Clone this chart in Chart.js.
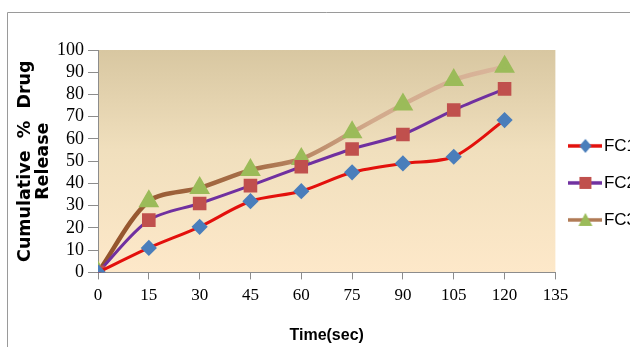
<!DOCTYPE html>
<html>
<head>
<meta charset="utf-8">
<script src="https://cdn.jsdelivr.net/npm/chart.js@4.4.1/dist/chart.umd.min.js"></script>
<style>
  html, body { margin: 0; padding: 0; background: #fff; overflow: hidden; }
  #wrap { width: 630px; height: 347px; position: relative; overflow: hidden; }
</style>
</head>
<body>
<div id="wrap"><canvas id="drugChart" width="646" height="347"></canvas></div>
<script>
const times = [0, 15, 30, 45, 60, 75, 90, 105, 120];
const fc1 = [0, 11, 20.5, 32, 36.5, 45, 49, 52, 68.5];
const fc2 = [0, 23.5, 31, 39, 47.5, 55.5, 62, 73, 82.5];
const fc3 = [0, 32, 38, 46, 51, 63, 75.5, 86.5, 92.5];
const seriesNames = ['FC1', 'FC2', 'FC3'];

function toPoints(values) {
    return times.map((t, i) => ({ x: t, y: values[i] }));
}

// little line + marker icon for the legend
function legendIcon(lineColor, markerColor, shape) {
    const c = document.createElement('canvas');
    c.width = 34;
    c.height = 16;
    const g = c.getContext('2d');
    g.strokeStyle = lineColor;
    g.lineWidth = 3.5;
    g.beginPath();
    g.moveTo(0, 8);
    g.lineTo(34, 8);
    g.stroke();
    g.fillStyle = markerColor;
    g.beginPath();
    if (shape === 'diamond') {
        g.moveTo(17, 1); g.lineTo(23, 8); g.lineTo(17, 15); g.lineTo(11, 8);
    } else if (shape === 'square') {
        g.rect(11, 2, 12, 12);
    } else {
        g.moveTo(17, 1); g.lineTo(24, 14); g.lineTo(10, 14);
    }
    g.closePath();
    g.fill();
    return c;
}

const icons = [
    legendIcon('#e3100c', '#4a7ebb', 'diamond'),
    legendIcon('#7030a0', '#c0504d', 'square'),
    legendIcon('#b07a55', '#9bbb59', 'triangle'),
];

const plotBackground = {
    id: 'plotBackground',
    beforeDraw(chart) {
        const { ctx, chartArea: a } = chart;
        ctx.save();
        // outer frame
        ctx.strokeStyle = '#9a9a9a';
        ctx.lineWidth = 1;
        ctx.beginPath();
        ctx.moveTo(7.5, 347);
        ctx.lineTo(7.5, 12.5);
        ctx.lineTo(646, 12.5);
        ctx.stroke();
        const grad = ctx.createLinearGradient(0, a.top, 0, a.bottom);
        grad.addColorStop(0, '#d8c7a1');
        grad.addColorStop(0.45, '#f0dfbd');
        grad.addColorStop(1, '#fde8c9');
        ctx.fillStyle = grad;
        ctx.fillRect(a.left, a.top, a.right - a.left, a.bottom - a.top);
        ctx.restore();
    }
};

function fc3Stroke(context) {
    const { ctx, chartArea } = context.chart;
    if (!chartArea) return '#b07a55';
    const grad = ctx.createLinearGradient(chartArea.left, 0, chartArea.right, 0);
    grad.addColorStop(0, '#93522a');
    grad.addColorStop(0.35, '#a8704a');
    grad.addColorStop(0.6, '#d2aa8c');
    grad.addColorStop(1, '#dcb9a0');
    return grad;
}

const ctx = document.getElementById('drugChart');
new Chart(ctx, {
    type: 'line',
    data: {
        datasets: [
            {
                label: seriesNames[0],
                data: toPoints(fc1),
                borderColor: '#e3100c',
                borderWidth: 3,
                pointStyle: 'rectRot',
                pointRadius: 6,
                pointBackgroundColor: '#4a7ebb',
                pointBorderColor: '#4a7ebb',
                tension: 0.3,
            },
            {
                label: seriesNames[1],
                data: toPoints(fc2),
                borderColor: '#7030a0',
                borderWidth: 3,
                pointStyle: 'rect',
                pointRadius: 7.5,
                pointBackgroundColor: '#c0504d',
                pointBorderColor: '#c0504d',
                tension: 0.3,
            },
            {
                label: seriesNames[2],
                data: toPoints(fc3),
                borderColor: fc3Stroke,
                borderWidth: 4.5,
                pointStyle: 'triangle',
                pointRadius: 7.5,
                pointBackgroundColor: '#9bbb59',
                pointBorderColor: '#9bbb59',
                tension: 0.3,
            },
        ],
    },
    options: {
        responsive: false,
        animation: false,
        events: [],
        layout: { padding: { top: 50, right: 0, left: 17, bottom: 2 } },
        plugins: {
            tooltip: { enabled: false },
            legend: {
                position: 'right',
                align: 'start',
                title: {
                    display: true,
                    text: ' ',
                    padding: { top: 47, bottom: 0 },
                    font: { size: 17 },
                },
                labels: {
                    usePointStyle: true,
                    pointStyleWidth: 20,
                    padding: 20,
                    color: '#000',
                    font: { family: "'Liberation Sans Narrow', 'Liberation Sans', sans-serif", size: 17 },
                    generateLabels(chart) {
                        return chart.data.datasets.map((ds, i) => ({
                            text: ds.label,
                            pointStyle: icons[i],
                            datasetIndex: i,
                            fillStyle: 'transparent',
                            strokeStyle: 'transparent',
                            lineWidth: 0,
                            fontColor: '#000',
                        }));
                    },
                },
            },
        },
        scales: {
            x: {
                type: 'linear',
                min: 0,
                max: 135,
                ticks: {
                    stepSize: 15,
                    autoSkip: false,
                    color: '#000',
                    padding: 6,
                    font: { family: "'Liberation Serif', serif", size: 17 },
                },
                grid: { drawOnChartArea: false, tickLength: 7, color: '#8c8c8c' },
                border: { color: '#8c8c8c' },
                title: {
                    display: true,
                    text: 'Time(sec)',
                    color: '#000',
                    padding: { top: 14, bottom: 0 },
                    font: { family: "'Liberation Sans Narrow', 'Liberation Sans', sans-serif", size: 16, weight: 'bold' },
                },
            },
            y: {
                min: 0,
                max: 100,
                ticks: {
                    stepSize: 10,
                    autoSkip: false,
                    color: '#000',
                    padding: 4,
                    font: { family: "'Liberation Serif', serif", size: 18 },
                },
                grid: { drawOnChartArea: false, tickLength: 10, color: '#8c8c8c' },
                border: { color: '#8c8c8c' },
                title: {
                    display: true,
                    text: ['Cumulative  %  Drug', 'Release'],
                    color: '#000',
                    padding: { top: 0, bottom: 1 },
                    font: { family: "'DejaVu Sans', sans-serif", size: 17.5, weight: 'bold', lineHeight: 1.0 },
                },
            },
        },
    },
    plugins: [plotBackground],
});
</script>
</body>
</html>
